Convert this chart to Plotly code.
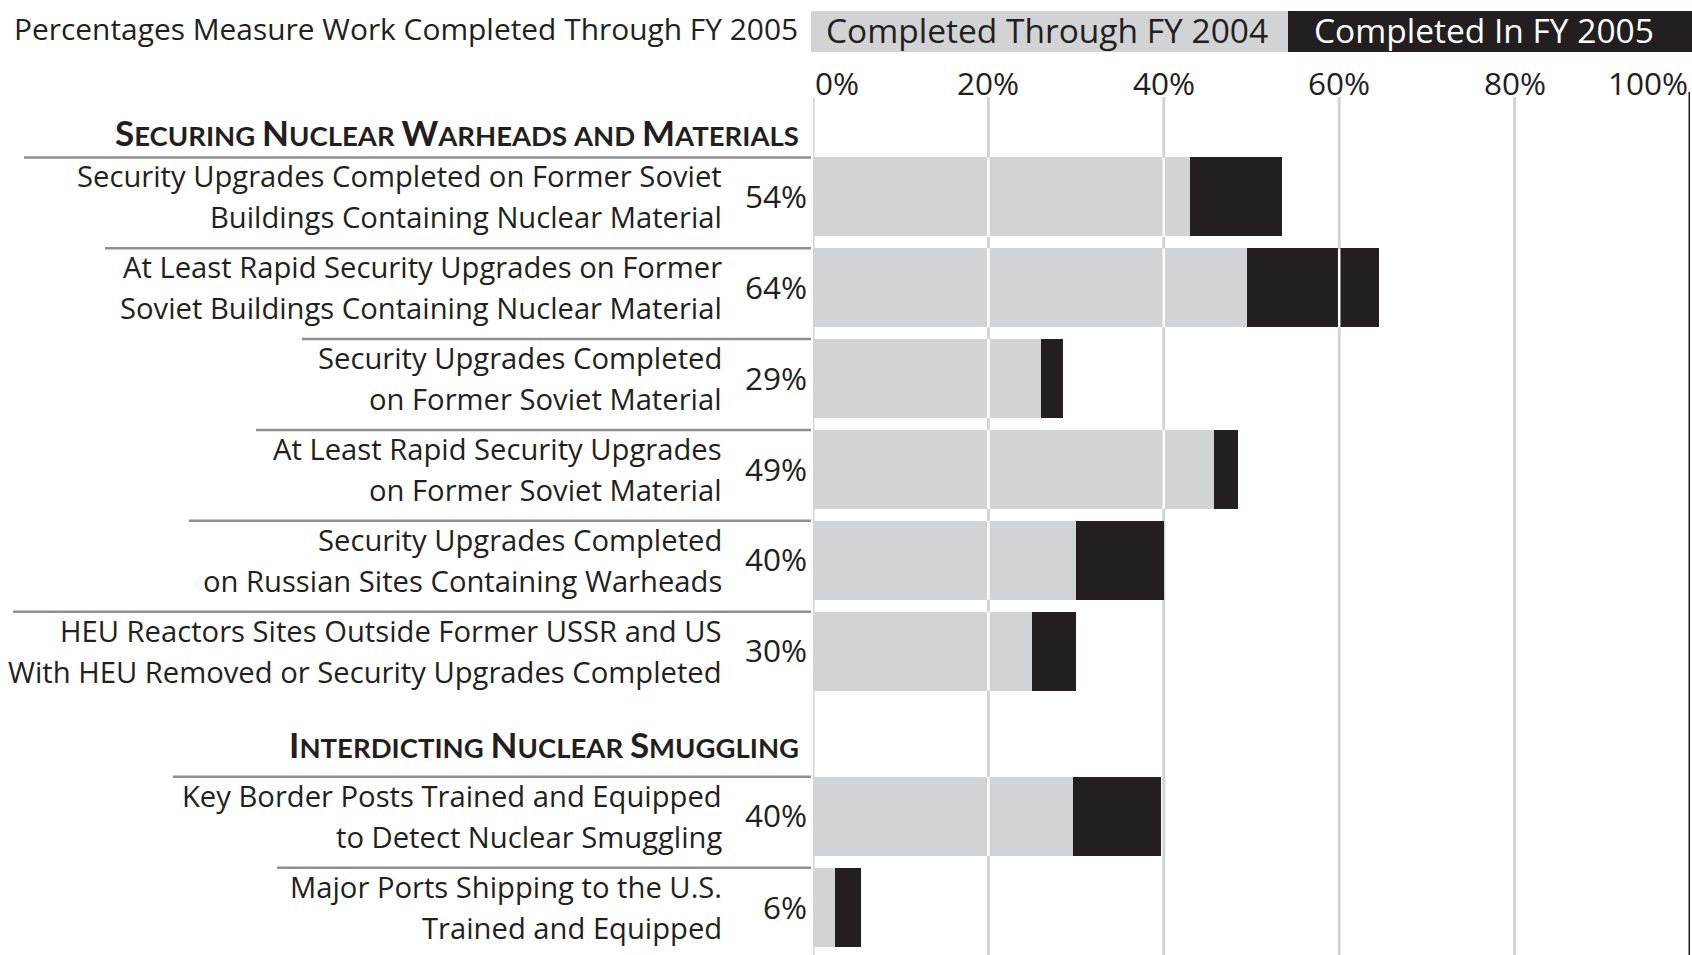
import plotly.graph_objects as go

# ---------------- data ----------------
labels = [
    "Security Upgrades Completed on Former Soviet<br>Buildings Containing Nuclear Material",
    "At Least Rapid Security Upgrades on Former<br>Soviet Buildings Containing Nuclear Material",
    "Security Upgrades Completed<br>on Former Soviet Material",
    "At Least Rapid Security Upgrades<br>on Former Soviet Material",
    "Security Upgrades Completed<br>on Russian Sites Containing Warheads",
    "HEU Reactors Sites Outside Former USSR and US<br>With HEU Removed or Security Upgrades Completed",
    "Key Border Posts Trained and Equipped<br>to Detect Nuclear Smuggling",
    "Major Ports Shipping to the U.S.<br>Trained and Equipped",
]
sections = ["Securing Nuclear Warheads and Materials", "Interdicting Nuclear Smuggling"]
section_rows = [[0, 1, 2, 3, 4, 5], [6, 7]]
through_fy2004 = [43, 49.5, 26, 45.7, 30, 25, 29.7, 2.5]
in_fy2005 = [10.5, 15, 2.5, 2.8, 10, 5, 10, 3]
pct_labels = ["54%", "64%", "29%", "49%", "40%", "30%", "40%", "6%"]
x_ticks = [0, 20, 40, 60, 80, 100]
x_tick_labels = ["0%", "20%", "40%", "60%", "80%", "100%"]
series_names = ["Completed Through FY 2004", "Completed In FY 2005"]
title_text = "Percentages Measure Work Completed Through FY 2005"

# ---------------- style / layout ----------------
W, H = 1692, 955
FONT = "Open Sans"
HFONT = "Lato"
INK = "#231f20"
GREY = "#d1d3d4"
RULE = "#8f8f8f"
FS = 29.2
PFS = 31.5
BAR_FRAC = 0.87
X_LEFT, X_RIGHT = 813, 1690
y_domains = [(151.5, 696.6), (770.7, 953.1)]  # pixel top/bottom per section
label_right = 724
line_gap = 41
rule_left = [24, 105, 302, 256, 189, 13, 173, 277]
heading_y = [132, 743.5]
heading_right = 801


def px(xp):
    return xp / W


def py(yp):
    return 1 - yp / H


def small_caps(s, big=35, small=27.5):
    out = []
    for ch in s:
        if ch.isupper():
            out.append(f'<span style="font-size:{big}px">{ch}</span>')
        elif ch == " ":
            out.append(" ")
        else:
            out.append(f'<span style="font-size:{small}px">{ch.upper()}</span>')
    return "<b>" + "".join(out) + "</b>"


fig = go.Figure()
shapes = []
annotations = []

for si, rows in enumerate(section_rows):
    xa = "x" if si == 0 else "x2"
    ya = "y" if si == 0 else "y2"
    cats = [labels[i] for i in rows]
    fig.add_trace(go.Bar(
        y=cats, x=[through_fy2004[i] for i in rows], orientation="h",
        name=series_names[0], marker=dict(color=GREY, line=dict(width=0)),
        xaxis=xa, yaxis=ya, showlegend=False, legendgroup="a"))
    fig.add_trace(go.Bar(
        y=cats, x=[in_fy2005[i] for i in rows], orientation="h",
        name=series_names[1], marker=dict(color=INK, line=dict(width=0)),
        xaxis=xa, yaxis=ya, showlegend=False, legendgroup="b"))

    for k, i in enumerate(rows):
        total = through_fy2004[i] + in_fy2005[i]
        # white grid breaks over the bars
        for g in x_ticks[1:-1]:
            if total > g:
                shapes.append(dict(type="line", xref="x", yref=ya, x0=g, x1=g,
                                   y0=k - BAR_FRAC / 2, y1=k + BAR_FRAC / 2,
                                   line=dict(color="white", width=2.5), layer="above"))
        # rule at the top of each row
        shapes.append(dict(type="line", xref="paper", yref=ya,
                           x0=px(rule_left[i]), x1=px(X_LEFT - 2),
                           y0=k - BAR_FRAC / 2, y1=k - BAR_FRAC / 2,
                           line=dict(color=RULE, width=2.5), layer="above"))
        lines = labels[i].split("<br>")
        n = len(lines)
        for j, ln in enumerate(lines):
            annotations.append(dict(xref="paper", yref=ya, x=px(label_right), y=labels[i],
                                    xanchor="right", yanchor="middle", align="right",
                                    yshift=((n - 1) / 2 - j) * line_gap,
                                    text=ln, showarrow=False,
                                    font=dict(family=FONT, size=FS, color=INK)))
    # section heading
    annotations.append(dict(xref="paper", yref="paper", x=px(heading_right), y=py(heading_y[si]),
                            xanchor="right", yanchor="middle", text=small_caps(sections[si]),
                            showarrow=False, font=dict(family=HFONT, size=28, color=INK)))

# grid lines spanning both sections
grid_top = py(97)
for g in x_ticks[:-1]:
    shapes.append(dict(type="line", xref="x", yref="paper", x0=g, x1=g, y0=0, y1=grid_top,
                       line=dict(color=GREY, width=3), layer="below"))
shapes.append(dict(type="line", xref="x", yref="paper", x0=x_ticks[-1], x1=x_ticks[-1],
                   y0=0, y1=py(92), line=dict(color=INK, width=3), layer="above"))

# tick labels along the top
for g, t in zip(x_ticks, x_tick_labels):
    anchor = "left" if g == x_ticks[0] else ("right" if g == x_ticks[-1] else "center")
    annotations.append(dict(xref="x", yref="paper", x=g, y=py(83), xanchor=anchor, yanchor="middle",
                            text=t, showarrow=False, font=dict(family=FONT, size=PFS, color=INK)))

# header legend boxes
shapes.append(dict(type="rect", xref="paper", yref="paper", x0=px(811), x1=px(1288),
                   y0=py(52), y1=py(11), fillcolor=GREY, line=dict(width=0), layer="below"))
shapes.append(dict(type="rect", xref="paper", yref="paper", x0=px(1288), x1=1,
                   y0=py(52), y1=py(11), fillcolor=INK, line=dict(width=0), layer="below"))
annotations.append(dict(xref="paper", yref="paper", x=px(824), y=py(30), xanchor="left", yanchor="middle",
                        text=series_names[0], showarrow=False, font=dict(family=FONT, size=33.5, color=INK)))
annotations.append(dict(xref="paper", yref="paper", x=px(1312), y=py(30), xanchor="left", yanchor="middle",
                        text=series_names[1], showarrow=False, font=dict(family=FONT, size=33.5, color="white")))
annotations.append(dict(xref="paper", yref="paper", x=px(12), y=py(29), xanchor="left", yanchor="middle",
                        text=title_text, showarrow=False, font=dict(family=FONT, size=29.9, color=INK)))

xcommon = dict(domain=[px(X_LEFT), px(X_RIGHT)], range=[0, 100], showgrid=False, zeroline=False,
               showticklabels=False, showline=False, ticks="", fixedrange=True)


def ycommon(si):
    rows = section_rows[si]
    top, bot = y_domains[si]
    return dict(domain=[py(bot), py(top)], type="category", autorange="reversed",
                tickvals=[labels[i] for i in rows], ticktext=[pct_labels[i] for i in rows],
                tickfont=dict(family=FONT, size=PFS, color=INK), ticks="", showgrid=False,
                zeroline=False, showline=False, ticklabelstandoff=5, fixedrange=True)


fig.update_layout(
    width=W, height=H, autosize=False,
    margin=dict(l=0, r=0, t=0, b=0),
    paper_bgcolor="white", plot_bgcolor="rgba(0,0,0,0)",
    barmode="stack", bargap=1 - BAR_FRAC,
    xaxis=dict(anchor="y", **xcommon),
    xaxis2=dict(anchor="y2", matches="x", **xcommon),
    yaxis=dict(anchor="x", **ycommon(0)),
    yaxis2=dict(anchor="x2", **ycommon(1)),
    shapes=shapes, annotations=annotations,
    showlegend=False,
    font=dict(family=FONT, color=INK),
)

fig.write_html(
    "out.html",
    config={"displayModeBar": False, "staticPlot": True},
    post_script="document.body.style.margin='0';document.body.style.overflow='hidden';",
)
